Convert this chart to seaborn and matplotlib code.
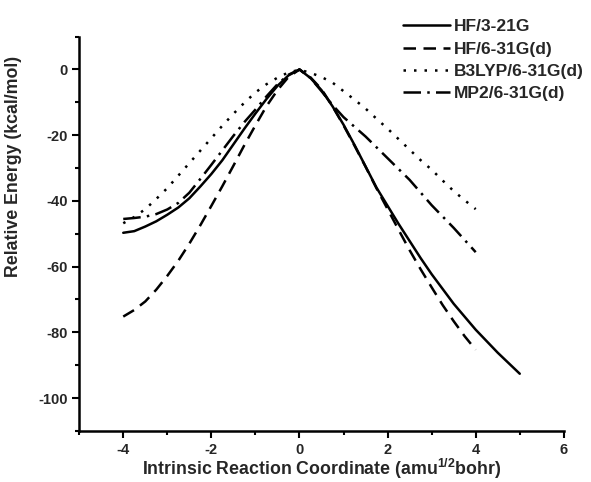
import numpy as np
import pandas as pd
import seaborn as sns
import matplotlib
matplotlib.use('Agg')
import matplotlib.pyplot as plt
from matplotlib.ticker import MultipleLocator

# energies in kcal/mol
methods = ['HF/3-21G', 'HF/6-31G(d)', 'B3LYP/6-31G(d)', 'MP2/6-31G(d)']

irc_hf321 = [-4, -3.75, -3.5, -3.25, -3, -2.75, -2.5, -2.25, -2, -1.75, -1.5,
             -1.25, -1, -0.75, -0.5, -0.25, 0, 0.25, 0.5, 0.75, 1, 1.25, 1.5,
             1.75, 2, 2.25, 2.5, 2.75, 3, 3.5, 4, 4.5, 5]
e_hf321 = [-49.7, -49.2, -47.8, -46.2, -44.2, -42.0, -39.2, -35.6, -31.8,
           -27.6, -22.8, -18.0, -13.4, -9.0, -5.0, -1.8, 0.0, -2.6, -6.3,
           -11.2, -16.8, -23.0, -29.5, -36.0, -41.5, -47.0, -52.2, -57.4,
           -62.3, -71.3, -79.2, -86.2, -92.6]

irc_hf631 = [-4, -3.75, -3.5, -3.25, -3, -2.75, -2.5, -2.25, -2, -1.75, -1.5,
             -1.25, -1, -0.75, -0.5, -0.25, 0, 0.25, 0.5, 0.75, 1, 1.25, 1.5,
             1.75, 2, 2.25, 2.5, 2.75, 3, 3.25, 3.5, 3.75, 4]
e_hf631 = [-75.2, -73.2, -70.6, -67.0, -62.8, -58.2, -53.0, -47.4, -41.5,
           -35.5, -29.3, -23.0, -17.0, -11.2, -6.3, -2.3, 0.0, -2.4, -6.0,
           -11.2, -17.0, -23.2, -29.6, -36.2, -42.5, -48.8, -55.0, -60.8,
           -66.3, -71.7, -76.6, -81.2, -85.3]

irc_b3lyp = [-4, -3.75, -3.5, -3.25, -3, -2.75, -2.5, -2.25, -2, -1.75, -1.5,
             -1.25, -1, -0.75, -0.5, -0.25, 0, 0.25, 0.5, 0.75, 1, 1.25, 1.5,
             1.75, 2, 2.25, 2.5, 2.75, 3, 3.25, 3.5, 3.75, 4]
e_b3lyp = [-46.8, -44.9, -42.5, -39.4, -36.1, -32.3, -28.5, -24.7, -20.9,
           -17.1, -13.5, -10.1, -7.0, -4.5, -2.5, -0.9, -0.1, -1.0, -2.3,
           -4.0, -6.6, -9.2, -11.9, -15.0, -18.0, -21.2, -24.4, -27.6, -30.5,
           -33.8, -37.0, -39.8, -42.5]

irc_mp2 = [-4, -3.75, -3.5, -3.25, -3, -2.75, -2.5, -2.25, -2, -1.75, -1.5,
           -1.25, -1, -0.75, -0.5, -0.25, 0, 0.25, 0.5, 0.75, 1, 1.5, 2, 2.5,
           3, 3.5, 4]
e_mp2 = [-45.5, -45.2, -44.8, -44.0, -42.6, -40.6, -37.5, -33.3, -29.0,
         -24.6, -20.2, -16.0, -12.2, -8.2, -4.5, -1.6, 0.0, -2.6, -6.6, -10.8,
         -14.5, -20.4, -27.0, -33.6, -41.3, -48.2, -55.6]

df = pd.concat([
    pd.DataFrame({'irc': irc_hf321, 'energy': e_hf321, 'method': methods[0]}),
    pd.DataFrame({'irc': irc_hf631, 'energy': e_hf631, 'method': methods[1]}),
    pd.DataFrame({'irc': irc_b3lyp, 'energy': e_b3lyp, 'method': methods[2]}),
    pd.DataFrame({'irc': irc_mp2, 'energy': e_mp2, 'method': methods[3]}),
], ignore_index=True)

sns.set_style('ticks')
plt.rcParams['font.family'] = ['Liberation Sans', 'DejaVu Sans']
plt.rcParams['font.weight'] = 'bold'
plt.rcParams['axes.unicode_minus'] = False
plt.rcParams['mathtext.fontset'] = 'custom'
plt.rcParams['mathtext.rm'] = 'Liberation Sans:bold'
plt.rcParams['mathtext.bf'] = 'Liberation Sans:bold'
plt.rcParams['mathtext.it'] = 'Liberation Sans:bold'

fig = plt.figure(figsize=(5.91, 4.82), dpi=100)
ax = fig.add_axes([0.134, 0.106, 0.820, 0.818])

dashes = {methods[0]: '',
          methods[1]: (5, 3),
          methods[2]: (1, 3.2),
          methods[3]: (7, 2.5, 1, 2.5)}

sns.lineplot(data=df, x='irc', y='energy', style='method',
             style_order=methods, dashes=dashes, color='black',
             linewidth=1.8, estimator=None, sort=True, ax=ax)

ax.set_xlim(-5, 6)
ax.set_ylim(-110, 10)
ax.xaxis.set_major_locator(MultipleLocator(2))
ax.xaxis.set_minor_locator(MultipleLocator(1))
ax.yaxis.set_major_locator(MultipleLocator(20))
ax.yaxis.set_minor_locator(MultipleLocator(10))
ax.tick_params(which='major', direction='out', length=5, width=1.5,
               labelsize=10.5, color='black')
ax.tick_params(which='minor', direction='out', length=3, width=1.5,
               color='black')
for lab in ax.get_xticklabels() + ax.get_yticklabels():
    lab.set_fontweight('bold')

sns.despine(ax=ax)
for s in ['left', 'bottom']:
    ax.spines[s].set_linewidth(1.8)
    ax.spines[s].set_color('black')

ax.set_xlabel('Intrinsic Reaction Coordinate (amu$^{1/2}$bohr)',
              fontsize=12.8, fontweight='bold', labelpad=0)
ax.set_ylabel('Relative Energy (kcal/mol)',
              fontsize=12.8, fontweight='bold')
ax.yaxis.set_label_coords(-0.118, 0.67)

sns.move_legend(ax, loc='upper left', bbox_to_anchor=(0.67, 0.975),
                bbox_transform=fig.transFigure, title=None, frameon=False,
                fontsize=12.5, handlelength=2.7, handletextpad=0.25,
                labelspacing=0.42, borderaxespad=0)
for t in ax.get_legend().get_texts():
    t.set_fontweight('bold')

fig.savefig('out.png', dpi=100)
